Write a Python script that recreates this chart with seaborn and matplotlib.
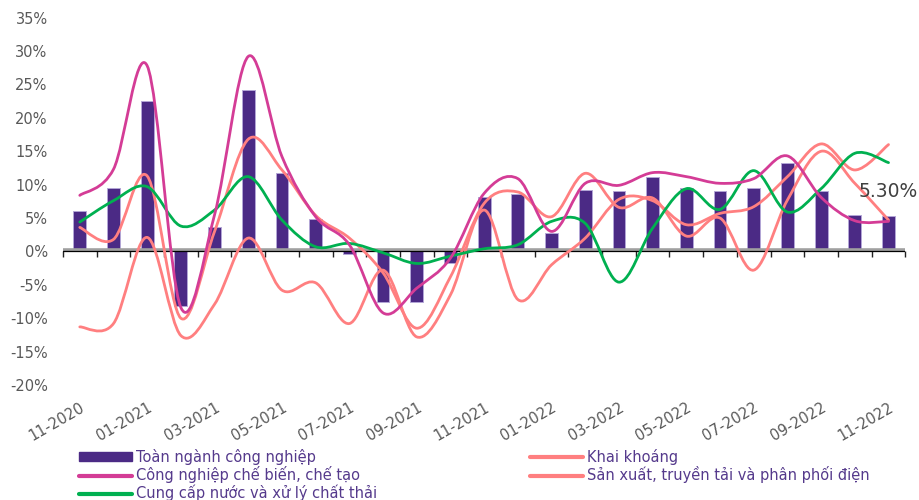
import numpy as np
import pandas as pd
import matplotlib
matplotlib.use("Agg")
import matplotlib.pyplot as plt
import matplotlib.transforms as mtransforms
from matplotlib.path import Path
from matplotlib.patches import PathPatch, Patch
from matplotlib.lines import Line2D
import seaborn as sns

# Monthly year-on-year growth of the industrial production index (%)
months = ["11-2020", "12-2020", "01-2021", "02-2021", "03-2021", "04-2021",
          "05-2021", "06-2021", "07-2021", "08-2021", "09-2021", "10-2021",
          "11-2021", "12-2021", "01-2022", "02-2022", "03-2022", "04-2022",
          "05-2022", "06-2022", "07-2022", "08-2022", "09-2022", "10-2022",
          "11-2022"]

toan_nganh = [6.0, 9.5, 22.5, -8.2, 3.6, 24.1, 11.8, 4.9, -0.4, -7.6, -7.5, -1.7,
              8.1, 8.6, 2.8, 9.2, 9.1, 11.1, 9.5, 9.1, 9.5, 13.3, 9.0, 5.5, 5.3]
khai_khoang = [-11.3, -10.8, 2.1, -12.6, -7.9, 2.0, -5.8, -4.7, -10.8, -2.8, -12.8, -6.5,
               6.2, -7.2, -2.0, 2.0, 7.8, 7.6, 4.0, 5.7, 6.7, 11.2, 16.1, 12.2, 16.0]
che_bien = [8.4, 12.3, 27.8, -8.4, 5.5, 29.2, 14.2, 5.2, 1.0, -9.2, -5.5, -1.0,
            8.7, 10.9, 3.0, 10.2, 9.9, 11.8, 11.2, 10.2, 10.9, 14.3, 8.1, 4.6, 4.5]
dien = [3.6, 1.8, 11.3, -10.0, 3.0, 16.8, 12.2, 5.4, 2.0, -3.2, -11.5, -3.8,
        7.2, 8.9, 5.2, 11.7, 6.6, 8.0, 2.3, 5.0, -2.8, 7.7, 15.0, 10.2, 4.7]
nuoc = [4.4, 7.6, 9.7, 3.8, 6.2, 11.2, 4.7, 0.7, 1.2, -0.2, -1.8, -0.7,
        0.4, 1.0, 4.5, 4.2, -4.6, 3.5, 9.4, 6.3, 12.1, 5.9, 9.4, 14.7, 13.3]

labels = ["Toàn ngành công nghiệp", "Khai khoáng", "Công nghiệp chế biến, chế tạo",
          "Sản xuất, truyền tải và phân phối điện", "Cung cấp nước và xử lý chất thải"]

BAR = "#4B2A85"
MAGENTA = "#D43C96"
SALMON = "#FF7F80"
GREEN = "#00B050"
GREY_TXT = "#595959"

sns.set_theme(style="white")
plt.rcParams["font.family"] = ["DejaVu Sans"]

fig = plt.figure(figsize=(9.2, 5.0), dpi=100)
ax = fig.add_axes([0.0684, 0.23, 0.9157, 0.7346])

df = pd.DataFrame({"month": months, "value": toan_nganh})
sns.barplot(data=df, x="month", y="value", color=BAR, saturation=1, width=0.38,
            edgecolor="#B3A6D6", linewidth=0.7, ax=ax, zorder=2)


def smooth_path(ys):
    """Catmull-Rom style smoothed path through each monthly value."""
    xs = np.arange(len(ys), dtype=float)
    ys = np.asarray(ys, dtype=float)
    n = len(ys)
    verts = [(xs[0], ys[0])]
    codes = [Path.MOVETO]
    for i in range(n - 1):
        a = max(i - 1, 0)
        d = min(i + 2, n - 1)
        c1 = (xs[i] + (xs[i + 1] - xs[a]) / 6, ys[i] + (ys[i + 1] - ys[a]) / 6)
        c2 = (xs[i + 1] - (xs[d] - xs[i]) / 6, ys[i + 1] - (ys[d] - ys[i]) / 6)
        verts += [c1, c2, (xs[i + 1], ys[i + 1])]
        codes += [Path.CURVE4] * 3
    return Path(verts, codes)


series = [(khai_khoang, SALMON), (dien, SALMON), (nuoc, GREEN), (che_bien, MAGENTA)]
for ys, col in series:
    ax.add_patch(PathPatch(smooth_path(ys), facecolor="none", edgecolor=col,
                           lw=2.0, zorder=4, capstyle="round", joinstyle="round"))

# zero baseline: grey band with a thin black rule underneath
band = mtransforms.offset_copy(ax.get_yaxis_transform(), fig=fig, x=0, y=1.5, units="dots")
ax.plot([0, 1], [0, 0], color="#A0A0A0", lw=2.6, zorder=3, transform=band)
ax.axhline(0, color="black", lw=0.9, zorder=3.1)

ax.set_xlim(-0.5, len(months) - 0.5)
ax.set_ylim(-20, 35)
yt = np.arange(-20, 36, 5)
ax.set_yticks(yt)
ax.set_yticklabels([f"{v}%" for v in yt])
ax.set_xticks(np.arange(0, len(months), 2))
ax.set_xticklabels(months[::2], rotation=30, ha="right", rotation_mode="anchor")
ax.tick_params(axis="y", length=0, pad=11, labelsize=10.5, labelcolor=GREY_TXT)
ax.tick_params(axis="x", length=0, pad=11, labelsize=10.5, labelcolor=GREY_TXT)
ax.set_xlabel("")
ax.set_ylabel("")
for s in ax.spines.values():
    s.set_visible(False)

# category boundary ticks along the zero line
sec = ax.secondary_xaxis(20 / 55)
sec.xaxis.set_ticks_position("bottom")
sec.set_xticks(np.arange(-0.5, len(months), 1.0))
sec.tick_params(axis="x", direction="out", length=4, width=1.0, color="#222222",
                labelbottom=False, labeltop=False)
for s in sec.spines.values():
    s.set_visible(False)

# value label on the latest month
ax.annotate(f"{toan_nganh[-1]:.2f}%", xy=(len(months) - 1, toan_nganh[-1]),
            xytext=(0, 25), textcoords="offset pixels", ha="center", va="center",
            fontsize=13.5, color="#404040", zorder=5)

handles = [
    Patch(facecolor=BAR, edgecolor=BAR),
    Line2D([], [], color=MAGENTA, lw=3),
    Line2D([], [], color=GREEN, lw=3),
    Line2D([], [], color=SALMON, lw=3),
    Line2D([], [], color=SALMON, lw=3),
]
leg_labels = [labels[0], labels[2], labels[4], labels[1], labels[3]]
leg = fig.legend(handles, leg_labels, ncol=2, loc="upper left",
                 bbox_to_anchor=(0.086, 0.102), frameon=False, fontsize=10.5,
                 handlelength=3.6, handleheight=0.55, handletextpad=0.3,
                 labelspacing=0.1, columnspacing=10.5, borderpad=0, borderaxespad=0)
for t in leg.get_texts():
    t.set_color("#553A8C")

fig.savefig("out.png", dpi=100)
